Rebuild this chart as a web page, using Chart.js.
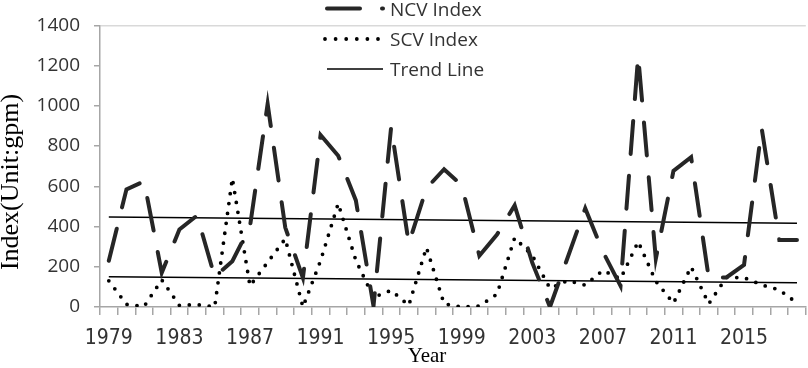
<!DOCTYPE html>
<html>
<head>
<meta charset="utf-8">
<script src="https://cdn.jsdelivr.net/npm/chart.js@4.4.1/dist/chart.umd.min.js"></script>
<style>
  html, body { margin: 0; padding: 0; background: #fff; }
</style>
</head>
<body>
<canvas id="indexChart" width="808" height="368"></canvas>
<script>
// values (unit: gpm)
const years = ['1979', '1980', '1981', '1982', '1983', '1984', '1985', '1986', '1987', '1988',
               '1989', '1990', '1991', '1992', '1993', '1994', '1995', '1996', '1997', '1998',
               '1999', '2000', '2001', '2002', '2003', '2004', '2005', '2006', '2007', '2008',
               '2009', '2010', '2011', '2012', '2013', '2014', '2015', '2016', '2017', '2018'];
const tickYears = ['1979', '1983', '1987', '1991', '1995', '1999', '2003', '2007', '2011', '2015'];
const ncvIndex = [230, 585, 625, 170, 385, 455, 150, 228, 400, 1010,
                  395, 145, 855, 752, 530, 5, 895, 315, 590, 685,
                  605, 255, 360, 505, 220, 0, 245, 490, 275, 105,
                  1248, 240, 677, 745, 144, 147, 210, 888, 333, 333];
const scvIndex = [130, 13, 3, 135, 8, 12, 0, 640, 105, 222,
                  339, 0, 230, 515, 232, 48, 83, 8, 296, 16,
                  0, 5, 64, 344, 256, 93, 131, 109, 182, 140,
                  325, 128, 19, 200, 16, 147, 146, 110, 85, 20];
const trendYears = ['1979', '2018'];
const ncvTrend = [448, 416];
const scvTrend = [150, 120];

const axisGray = '#a6a6a6';
const textColor = '#333333';

// legend is stacked vertically in the reference, so it is drawn here
const legendEntries = [
    { dataset: 0, text: 'NCV Index', x1: 327, x2: 383, y: 8.5, dash: [33, 22], textY: 16 },
    { dataset: 1, text: 'SCV Index', x1: 325, x2: 378.5, y: 39, dash: [0, 10.6], textY: 46 },
    { dataset: 2, text: 'Trend Line', x1: 327, x2: 383, y: 69, dash: [], textY: 76 }
];

const extraText = {
    id: 'extraText',
    afterDraw(chart) {
        const ctx = chart.ctx;

        // axis titles
        ctx.save();
        ctx.fillStyle = '#000';
        ctx.font = '26px "Liberation Serif"';
        ctx.textAlign = 'center';
        ctx.textBaseline = 'middle';
        ctx.translate(11, 182);
        ctx.rotate(-Math.PI / 2);
        ctx.fillText('Index(Unit:gpm)', 0, 0);
        ctx.restore();

        ctx.save();
        ctx.fillStyle = '#000';
        ctx.font = '21px "Liberation Serif"';
        ctx.textAlign = 'center';
        ctx.textBaseline = 'alphabetic';
        ctx.fillText('Year', 427, 362);
        ctx.restore();

        // legend
        legendEntries.forEach(entry => {
            const ds = chart.data.datasets[entry.dataset];
            ctx.save();
            ctx.strokeStyle = ds.borderColor;
            ctx.lineWidth = ds.borderWidth;
            ctx.lineCap = ds.borderCapStyle || 'butt';
            ctx.setLineDash(entry.dash);
            ctx.beginPath();
            ctx.moveTo(entry.x1, entry.y);
            ctx.lineTo(entry.x2, entry.y);
            ctx.stroke();
            ctx.restore();

            ctx.save();
            ctx.fillStyle = textColor;
            ctx.font = '19px "Open Sans"';
            ctx.textBaseline = 'alphabetic';
            ctx.fillText(entry.text, 390, entry.textY);
            ctx.restore();
        });
    }
};

const ctx = document.getElementById('indexChart').getContext('2d');
const chart = new Chart(ctx, {
    type: 'line',
    data: {
        labels: years,
        datasets: [
            {
                label: 'NCV Index',
                data: ncvIndex,
                borderColor: '#262626',
                borderWidth: 4,
                borderDash: [33, 22],
                borderCapStyle: 'round',
                pointRadius: 0,
                tension: 0,
                fill: false
            },
            {
                label: 'SCV Index',
                data: scvIndex,
                borderColor: '#000000',
                borderWidth: 3.8,
                borderDash: [0, 10],
                borderCapStyle: 'round',
                pointRadius: 0,
                tension: 0,
                fill: false
            },
            {
                label: 'Trend Line',
                data: trendYears.map((yr, i) => ({ x: yr, y: ncvTrend[i] })),
                borderColor: '#000000',
                borderWidth: 1.5,
                pointRadius: 0,
                fill: false
            },
            {
                label: 'SCV Trend',
                data: trendYears.map((yr, i) => ({ x: yr, y: scvTrend[i] })),
                borderColor: '#000000',
                borderWidth: 1.5,
                pointRadius: 0,
                fill: false
            }
        ]
    },
    options: {
        responsive: false,
        animation: false,
        layout: { padding: { left: 0, right: 2, top: 15, bottom: 0 } },
        plugins: {
            legend: { display: false },
            tooltip: { enabled: false }
        },
        scales: {
            x: {
                offset: true,
                afterFit: scale => { scale.height = 61; },
                grid: {
                    offset: true,
                    drawOnChartArea: false,
                    tickLength: 8,
                    tickColor: axisGray,
                    lineWidth: 1.5
                },
                border: { color: axisGray, width: 1.5 },
                ticks: {
                    autoSkip: false,
                    maxRotation: 0,
                    minRotation: 0,
                    padding: 11,
                    color: textColor,
                    font: { family: '"Liberation Sans Narrow", "DejaVu Sans Condensed", sans-serif', size: 21 },
                    callback: function (value) {
                        const label = this.getLabelForValue(value);
                        return tickYears.includes(label) ? label : '';
                    }
                }
            },
            y: {
                min: 0,
                max: 1400,
                afterFit: scale => { scale.width = 100; },
                grid: {
                    color: c => (c.tick && c.tick.value === 1400) ? '#d9d9d9' : 'rgba(0,0,0,0)',
                    tickColor: axisGray,
                    tickLength: 6,
                    lineWidth: 1.5
                },
                border: { color: axisGray, width: 1.5 },
                ticks: {
                    stepSize: 200,
                    padding: 14,
                    color: textColor,
                    font: { family: '"Open Sans"', size: 19 },
                    callback: value => String(value)
                }
            }
        }
    },
    plugins: [extraText]
});
</script>
</body>
</html>
